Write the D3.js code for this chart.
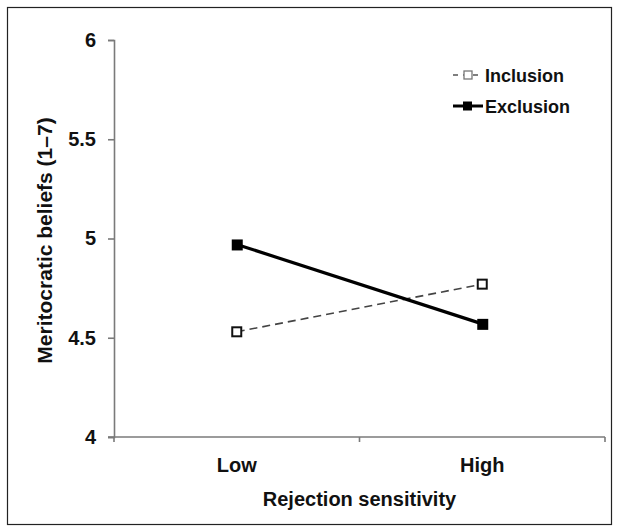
<!DOCTYPE html>
<html>
<head>
<meta charset="utf-8">
<script src="https://cdn.jsdelivr.net/npm/d3@7"></script>
<style>
  body { margin: 0; background: #fff; }
  text { font-family: "Liberation Sans", Arial, sans-serif; font-weight: bold; fill: #111; }
</style>
</head>
<body>
<div id="chart"></div>
<script>
var categories = ["Low", "High"];
var inclusion = [4.53, 4.77];
var exclusion = [4.97, 4.57];
var yTicks = [4, 4.5, 5, 5.5, 6];

var margin = {top: 40, right: 14, bottom: 95, left: 114},
    width = 605 - margin.left,
    height = 437 - margin.top;

var svg = d3.select("#chart").append("svg")
    .attr("width", 619)
    .attr("height", 532);

// outer frame
svg.append("rect")
    .attr("x", 7.5).attr("y", 7.5)
    .attr("width", 604).attr("height", 517)
    .attr("fill", "none")
    .attr("stroke", "#222")
    .attr("stroke-width", 1.2);

var g = svg.append("g")
    .attr("transform", "translate(" + margin.left + "," + margin.top + ")");

var x = d3.scaleBand().domain(categories).range([0, width]),
    y = d3.scaleLinear().domain([4, 6]).range([height, 0]);

// y axis
var yAxis = g.append("g")
    .call(d3.axisLeft(y).tickValues(yTicks).tickSize(6).tickPadding(12)
      .tickFormat(function(d) { return d; }));
yAxis.select(".domain").attr("stroke", "#7a7a7a").attr("stroke-width", 1.6);
yAxis.selectAll(".tick line").attr("stroke", "#7a7a7a").attr("stroke-width", 1.6);
yAxis.selectAll(".tick text").style("font-size", "20px").attr("fill", "#111");

// x axis: boundary ticks between categories
var xg = g.append("g").attr("transform", "translate(0," + height + ")");
xg.append("line")
    .attr("x1", -6).attr("x2", width)
    .attr("stroke", "#7a7a7a").attr("stroke-width", 1.6);
xg.selectAll(".bt")
    .data([0, width / 2, width])
    .enter().append("line")
      .attr("x1", function(d) { return d; })
      .attr("x2", function(d) { return d; })
      .attr("y1", 0).attr("y2", 5)
      .attr("stroke", "#7a7a7a").attr("stroke-width", 1.6);
xg.selectAll(".cl")
    .data(categories)
    .enter().append("text")
      .attr("x", function(d) { return x(d) + x.bandwidth() / 2; })
      .attr("y", 35)
      .attr("text-anchor", "middle")
      .style("font-size", "20px")
      .text(function(d) { return d; });

// axis titles
g.append("text")
    .attr("x", width / 2)
    .attr("y", height + 69)
    .attr("text-anchor", "middle")
    .style("font-size", "20px")
    .text("Rejection sensitivity");

g.append("text")
    .attr("transform", "translate(-62," + (height / 2 + 2) + ") rotate(-90)")
    .attr("text-anchor", "middle")
    .style("font-size", "21px")
    .text("Meritocratic beliefs (1\u20137)");

var cx = function(d, i) { return x(categories[i]) + x.bandwidth() / 2; };
var line = d3.line().x(cx).y(function(d) { return y(d); });

// inclusion
g.append("path")
    .datum(inclusion)
    .attr("d", line)
    .attr("fill", "none")
    .attr("stroke", "#444")
    .attr("stroke-width", 1.6)
    .attr("stroke-dasharray", "8,5");

// exclusion
g.append("path")
    .datum(exclusion)
    .attr("d", line)
    .attr("fill", "none")
    .attr("stroke", "#000")
    .attr("stroke-width", 3.2);

var s = 9;
g.selectAll(".mi")
    .data(inclusion)
    .enter().append("rect")
      .attr("x", function(d, i) { return cx(d, i) - s / 2; })
      .attr("y", function(d) { return y(d) - s / 2; })
      .attr("width", s).attr("height", s)
      .attr("fill", "#fff")
      .attr("stroke", "#111")
      .attr("stroke-width", 2);

g.selectAll(".me")
    .data(exclusion)
    .enter().append("rect")
      .attr("x", function(d, i) { return cx(d, i) - s / 2 - 0.5; })
      .attr("y", function(d) { return y(d) - s / 2 - 0.5; })
      .attr("width", s + 2).attr("height", s + 2)
      .attr("fill", "#000");

// legend
var legend = svg.append("g").attr("transform", "translate(453,75)");
legend.append("line").attr("x1", 0).attr("x2", 30).attr("y1", 0).attr("y2", 0)
    .attr("stroke", "#555").attr("stroke-width", 1.3).attr("stroke-dasharray", "5,5");
legend.append("rect").attr("x", 11).attr("y", -4).attr("width", 8).attr("height", 8)
    .attr("fill", "#fff").attr("stroke", "#777").attr("stroke-width", 1.3);
legend.append("text").attr("x", 32).attr("y", 7).style("font-size", "18px").text("Inclusion");

legend.append("line").attr("x1", 0).attr("x2", 30).attr("y1", 31).attr("y2", 31)
    .attr("stroke", "#000").attr("stroke-width", 3);
legend.append("rect").attr("x", 10).attr("y", 26.5).attr("width", 9).attr("height", 9)
    .attr("fill", "#000");
legend.append("text").attr("x", 32).attr("y", 38).style("font-size", "18px").text("Exclusion");
</script>
</body>
</html>
